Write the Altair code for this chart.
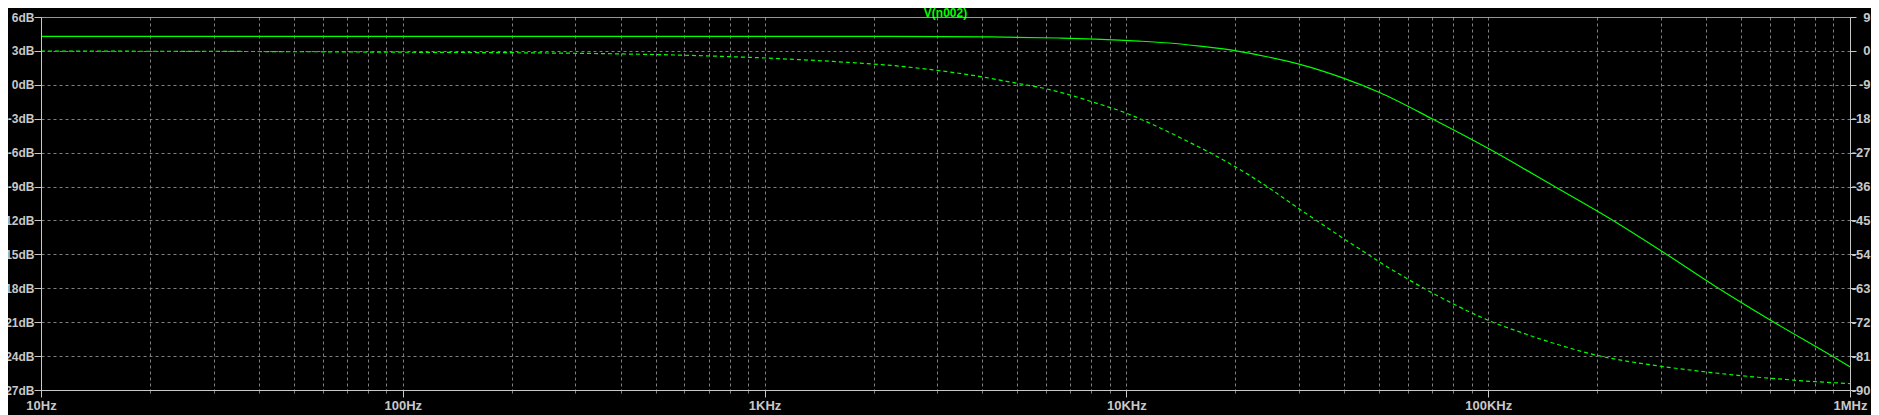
import altair as alt
import pandas as pd

# Magnitude (solid, left axis, dB)
mag_freq = [10, 100, 1000, 2000, 4224, 6471, 8190, 9541, 10835, 13113, 15975, 19963,
            24462, 30177, 39943, 49920, 70392, 99860, 152990, 221300, 306100, 420900,
            604900, 891900, 1000000]
mag_db = [4.29, 4.29, 4.29, 4.28, 4.24, 4.14, 4.05, 3.96, 3.87, 3.70, 3.42, 3.02,
          2.48, 1.81, 0.57, -0.66, -3.05, -5.62, -9.02, -12.0, -14.85, -17.75,
          -20.85, -24.0, -24.95]

# Phase (dashed, right axis, degrees)
ph_freq = [10, 50, 100, 250, 404, 576, 707, 872, 1015, 1176, 1335, 1546, 1871, 2084,
           2444, 2996, 4015, 4984, 6032, 6985, 8035, 10040, 11620, 14335, 17240,
           19963, 24462, 30000, 34510, 39943, 46540, 50230, 60020, 69950, 79930,
           90780, 100000, 124000, 156500, 199900, 300300, 400000, 499500, 604900,
           805600, 1000000]
ph_deg = [-0.05, -0.2, -0.35, -0.55, -0.8, -1.1, -1.35, -1.65, -1.9, -2.2, -2.45,
          -2.8, -3.3, -3.6, -4.19, -5.15, -6.93, -8.6, -10.1, -11.7, -13.5, -16.6,
          -19.2, -23.4, -27.3, -30.7, -36.0, -41.9, -45.8, -49.9, -54.0, -56.1,
          -60.6, -64.2, -67.1, -69.7, -71.5, -74.8, -78.0, -80.8, -83.7, -85.2,
          -86.2, -86.9, -87.8, -88.3]

x_major = [10, 100, 1000, 10000, 100000, 1000000]
x_major_labels = ["10Hz", "100Hz", "1KHz", "10KHz", "100KHz", "1MHz"]
x_minor = [m * 10 ** d for d in range(1, 6) for m in range(1, 10)] + [1000000]

y_left_vals = [6, 3, 0, -3, -6, -9, -12, -15, -18, -21, -24, -27]
y_left_labels = ["6dB", "3dB", "0dB", "-3dB", "-6dB", "-9dB", "-12dB", "-15dB",
                 "-18dB", "-21dB", "-24dB", "-27dB"]
y_right_vals = [9, 0, -9, -18, -27, -36, -45, -54, -63, -72, -81, -90]
y_right_labels = ["9", "0", "-9", "-18", "-27", "-36", "-45", "-54",
                  "-63", "-72", "-81", "-90"]

title_text = ["V(n002)"]


def expr_map(vals, labels):
    e = "''"
    for v, l in zip(vals, labels):
        e = f"datum.value == {v} ? '{l}' : ({e})"
    return e


FONT = "Liberation Sans"
LBL = "#c8c8c8"
GRID = "#808080"
GREEN = "#00ff00"
W, H = 1809, 373

mag_df = pd.DataFrame({"f": mag_freq, "v": mag_db})
ph_df = pd.DataFrame({"f": ph_freq, "v": ph_deg})
title_df = pd.DataFrame({"t": title_text})

xscale = alt.Scale(type="log", domain=[10, 1000000], nice=False)

mag = alt.Chart(mag_df).mark_line(color=GREEN, strokeWidth=1.2, interpolate="monotone").encode(
    x=alt.X("f:Q", scale=xscale, axis=alt.Axis(
        orient="bottom", values=x_major, labelExpr=expr_map(x_major, x_major_labels),
        title=None, grid=False, tickSize=7, tickColor=LBL, domainColor=LBL,
        labelColor=LBL, labelFont=FONT, labelFontSize=13, labelFontWeight="bold",
        labelPadding=2, labelFlush=False, labelOverlap=False, labelBound=False, zindex=1)),
    y=alt.Y("v:Q", scale=alt.Scale(domain=[-27, 6], nice=False, zero=False), axis=alt.Axis(
        orient="left", values=y_left_vals, labelExpr=expr_map(y_left_vals, y_left_labels),
        title=None, tickSize=7, tickColor=LBL, domainColor=LBL,
        labelColor=LBL, labelFont=FONT, labelFontSize=12, labelFontWeight="bold",
        labelPadding=0, labelOverlap=False, labelBound=False, zindex=1,
        grid=True,
        gridColor={"condition": {"test": "datum.value == 6 || datum.value == -27", "value": LBL}, "value": GRID},
        gridDash={"condition": {"test": "datum.value == 6 || datum.value == -27", "value": [1, 0]}, "value": [3, 3]},
        gridWidth=1)),
)

ph = alt.Chart(ph_df).mark_line(color=GREEN, strokeWidth=1.2, strokeDash=[4, 3], interpolate="monotone").encode(
    x=alt.X("f:Q", scale=xscale, axis=alt.Axis(
        orient="bottom", values=x_minor, labels=False, title=None, domain=False,
        tickSize=3, tickColor=GRID, grid=True,
        gridColor={"condition": {"test": "datum.value == 10 || datum.value == 1000000", "value": LBL}, "value": GRID},
        gridDash={"condition": {"test": "datum.value == 10 || datum.value == 1000000", "value": [1, 0]}, "value": [3, 3]},
        gridWidth=1)),
    y=alt.Y("v:Q", scale=alt.Scale(domain=[-90, 9], nice=False, zero=False), axis=alt.Axis(
        orient="right", values=y_right_vals, labelExpr=expr_map(y_right_vals, y_right_labels),
        title=None, grid=False, tickSize=6, tickColor=LBL, domainColor=LBL,
        labelColor=LBL, labelFont=FONT, labelFontSize=13, labelFontWeight="bold",
        labelAlign="right", labelPadding=14, labelOverlap=False, labelBound=False, zindex=1)),
)

title = alt.Chart(title_df).mark_text(
    color=GREEN, font=FONT, fontSize=12, fontWeight="bold", align="center",
    baseline="alphabetic"
).encode(text="t:N", x=alt.value(W / 2), y=alt.value(-0.2))

chart = alt.layer(mag, ph, title).resolve_scale(y="independent").resolve_axis(
    x="independent", y="independent"
).properties(
    width=W, height=H,
    autosize=alt.AutoSizeParams(type="none"),
    padding={"left": 33, "top": 9, "right": 21, "bottom": 25},
).configure(background="#000000").configure_view(stroke=None)

chart.save("out.html", embed_options={"renderer": "svg", "actions": False})
